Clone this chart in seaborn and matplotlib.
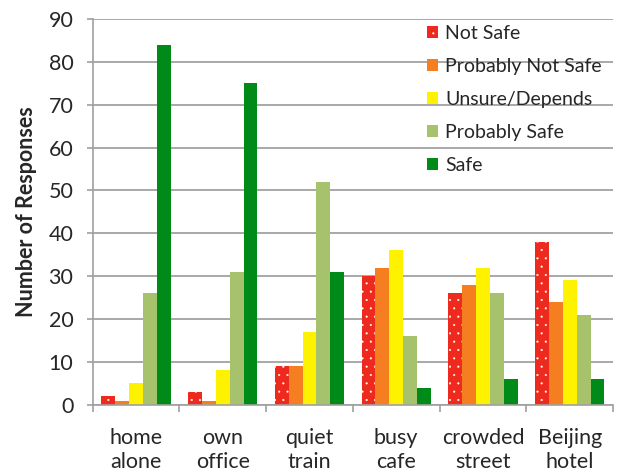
import numpy as np
import pandas as pd
import matplotlib
matplotlib.use('Agg')
import matplotlib.pyplot as plt
from matplotlib.ticker import FixedLocator
import seaborn as sns

places = ['home\nalone', 'own\noffice', 'quiet\ntrain', 'busy\ncafe', 'crowded\nstreet', 'Beijing\nhotel']
ratings = ['Not Safe', 'Probably Not Safe', 'Unsure/Depends', 'Probably Safe', 'Safe']

not_safe = [2, 3, 9, 30, 26, 38]
prob_not_safe = [1, 1, 9, 32, 28, 24]
unsure = [5, 8, 17, 36, 32, 29]
prob_safe = [26, 31, 52, 16, 26, 21]
safe = [84, 75, 31, 4, 6, 6]

colors = ['#ee2a1e', '#f57f20', '#fff200', '#a6c26c', '#008a17']

rows = []
for r, vals in zip(ratings, [not_safe, prob_not_safe, unsure, prob_safe, safe]):
    for p, v in zip(places, vals):
        rows.append({'place': p, 'rating': r, 'count': v})
df = pd.DataFrame(rows)

sns.set_style('white')
plt.rcParams['font.family'] = ['Lato', 'DejaVu Sans']
plt.rcParams['hatch.color'] = 'white'
plt.rcParams['hatch.linewidth'] = 0.3

fig = plt.figure(figsize=(6.18, 4.74), dpi=100)
ax = fig.add_axes([0.150, 0.146, 0.842, 0.814])

sns.barplot(data=df, x='place', y='count', hue='rating', hue_order=ratings,
            palette=colors, width=0.8, saturation=1, ax=ax, errorbar=None)

for cont in ax.containers:
    for bar in cont:
        bar.set_linewidth(0)
# dotted red bars
for bar in ax.containers[0]:
    bar.set_hatch('..')
    bar.set_edgecolor('white')

ax.set_ylim(0, 90)
ax.set_xlim(-0.5, len(places) - 0.5)
ax.set_yticks(range(0, 91, 10))
ax.yaxis.grid(True, color='#9a9a9a', linewidth=1.2)
ax.set_axisbelow(True)

for s in ['top', 'right']:
    ax.spines[s].set_visible(False)
for s in ['left', 'bottom']:
    ax.spines[s].set_color('#a0a0a0')
    ax.spines[s].set_linewidth(1.2)

ax.xaxis.set_minor_locator(FixedLocator(np.arange(-0.5, len(places), 1.0)))
ax.tick_params(axis='x', which='major', length=0, pad=17, labelsize=15.5)
ax.tick_params(axis='x', which='minor', length=5, color='#a0a0a0', width=1.2, direction='out', bottom=True)
ax.tick_params(axis='y', length=4, color='#a0a0a0', width=1.2, labelsize=15.5, pad=10, left=True)

ax.set_xlabel('')
ax.set_ylabel('Number of Responses', fontsize=15.5, fontweight='bold', labelpad=8)

handles, labels = ax.get_legend_handles_labels()
leg = ax.legend(handles, labels, loc='upper right', bbox_to_anchor=(1.012, 1.03),
                frameon=False, fontsize=14, handlelength=0.6, handleheight=0.6,
                handletextpad=0.35, labelspacing=0.82)
for h in leg.legend_handles:
    h.set_linewidth(0)
leg.legend_handles[0].set_hatch('..')

fig.savefig('out.png', dpi=100)
